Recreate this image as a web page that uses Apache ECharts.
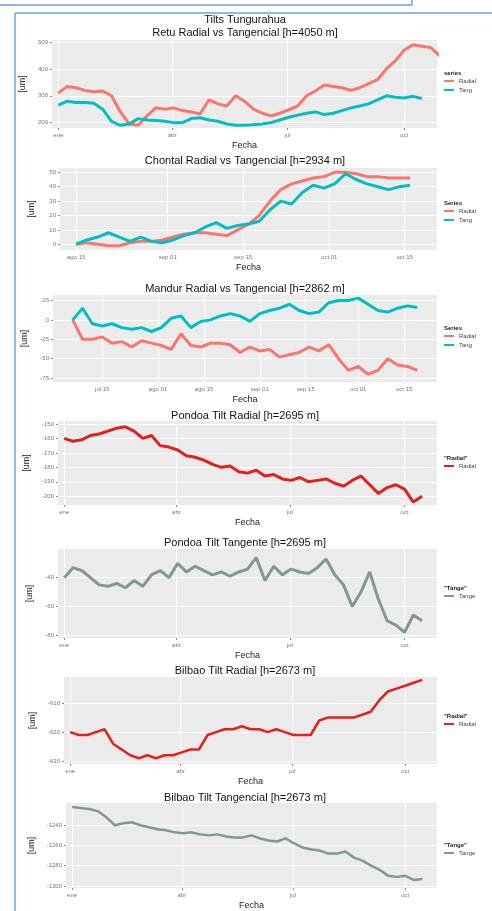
<!DOCTYPE html>
<html><head><meta charset="utf-8">
<script src="https://cdn.jsdelivr.net/npm/echarts@6/dist/echarts.min.js"></script>
<style>html,body{margin:0;background:#fff}#c{width:492px;height:911px}</style>
</head><body><div id="c"></div>
<script>
// weekly values, year-long series start 1 Jan
const yearStart = '2013-01-01';
const retuRadial = [310,335,330,320,315,318,300,240,195,190,225,255,250,255,245,240,232,285,270,262,300,280,250,235,225,235,248,262,300,318,340,335,330,320,330,345,360,400,430,470,490,485,480,450];
const retuTang = [265,280,275,275,272,250,205,190,195,215,210,208,205,200,200,215,218,210,205,195,190,190,192,195,200,210,220,228,235,240,230,235,245,255,262,270,285,300,295,292,298,290];
const chontalRadial = [0,1,0,-1,-1,1,2,2,3,5,7,8,8,7,6,10,14,20,30,38,42,44,46,47,50,50,49,47,47,46,46,46];
const chontalTang = [0,3,5,8,5,2,5,2,1,3,6,8,12,15,11,13,14,16,24,30,28,36,41,39,42,49,45,42,40,38,40,41];
const mandurRadial = [0,-25,-25,-22,-30,-28,-35,-27,-30,-33,-38,-18,-33,-35,-30,-30,-32,-42,-35,-40,-38,-48,-45,-42,-35,-40,-32,-50,-65,-60,-70,-65,-50,-58,-60,-65];
const mandurTang = [0,15,-5,-8,-5,-10,-12,-10,-15,-10,2,5,-10,-2,0,5,8,5,-2,8,12,15,20,12,8,10,22,25,25,28,20,12,10,15,18,16];
const pondoaRadial = [-160,-162,-161,-158,-157,-155,-153,-152,-155,-160,-158,-165,-166,-168,-172,-173,-175,-178,-180,-179,-183,-184,-182,-186,-185,-188,-189,-187,-190,-189,-188,-191,-193,-189,-186,-192,-198,-194,-192,-195,-204,-200];
const pondoaTang = [-40,-33,-35,-40,-45,-46,-44,-47,-42,-46,-38,-35,-40,-30,-36,-32,-35,-38,-36,-39,-36,-34,-26,-42,-32,-38,-34,-36,-37,-33,-27,-38,-45,-60,-50,-36,-55,-70,-73,-78,-66,-70];
const bilbaoRadial = [-620,-621,-621,-620,-619,-624,-626,-628,-629,-628,-629,-628,-628,-627,-626,-626,-621,-620,-619,-619,-618,-619,-619,-620,-619,-620,-621,-621,-621,-616,-615,-615,-615,-615,-614,-613,-609,-606,-605,-604,-603,-602];
const bilbaoTang = [-1222,-1223,-1224,-1226,-1232,-1240,-1238,-1237,-1240,-1242,-1244,-1245,-1247,-1248,-1247,-1249,-1250,-1249,-1251,-1252,-1252,-1250,-1253,-1255,-1256,-1253,-1258,-1262,-1264,-1265,-1268,-1268,-1266,-1272,-1275,-1280,-1284,-1290,-1291,-1290,-1294,-1293];
const quarterTicks = ['2013-01-01','2013-04-01','2013-07-01','2013-10-01'];
const chontalTicks = ['2013-08-15','2013-09-01','2013-09-15','2013-10-01','2013-10-15'];
const mandurTicks = ['2013-07-15','2013-08-01','2013-08-15','2013-09-01','2013-09-15','2013-10-01','2013-10-15'];
const yTicks = [[200,300,400,500],[0,10,20,30,40,50],[-75,-50,-25,0,25],[-200,-190,-180,-170,-160,-150],[-80,-60,-40],[-630,-620,-610],[-1300,-1280,-1260,-1240]];
const meses = ['ene','feb','mar','abr','may','jun','jul','ago','sep','oct','nov','dic'];

function pairs(start, stepDays, vals) {
  const t0 = new Date(start + 'T00:00:00Z').getTime();
  return vals.map((v, i) => [t0 + i * stepDays * 86400000, v]);
}
const ts = s => new Date(s + 'T00:00:00Z').getTime();

const C = { r: '#F8766D', t: '#00BFC4', red: '#E3201B', gray: '#7E9896' };
const grids = [
  { left: 52, top: 40, height: 88 },
  { left: 60, top: 168, height: 82 },
  { left: 53, top: 295, height: 87 },
  { left: 58, top: 421, height: 84 },
  { left: 58, top: 549, height: 89 },
  { left: 64, top: 677, height: 87 },
  { left: 66, top: 803, height: 87 }
].map(g => Object.assign({ right: 55, show: true, backgroundColor: '#EBEBEB', borderWidth: 0 }, g));

const xr = [
  ['2012-12-27', '2013-10-27', quarterTicks, false],
  ['2013-08-12', '2013-10-21', chontalTicks, true],
  ['2013-06-30', '2013-10-25', mandurTicks, true],
  ['2012-12-27', '2013-10-27', quarterTicks, false],
  ['2012-12-27', '2013-10-27', quarterTicks, false],
  ['2012-12-27', '2013-10-27', quarterTicks, false],
  ['2012-12-27', '2013-10-27', quarterTicks, false]
];
const xAxis = xr.map((r, i) => ({
  type: 'value', gridIndex: i, min: ts(r[0]), max: ts(r[1]),
  name: 'Fecha', nameLocation: 'middle', nameGap: 13,
  nameTextStyle: { fontSize: 9, color: '#222', fontFamily: 'Liberation Sans' },
  axisLine: { show: false },
  axisTick: { show: true, length: 2, lineStyle: { color: '#888' }, customValues: r[2].map(ts) },
  axisLabel: {
    fontSize: 6, color: '#777', margin: 4, customValues: r[2].map(ts),
    formatter: v => { const d = new Date(v); const m = meses[d.getUTCMonth()]; return r[3] ? m + ' ' + String(d.getUTCDate()).padStart(2, '0') : m; }
  },
  splitLine: { show: false }
}));
const yr = [[180, 508], [-4, 53], [-80, 32], [-206, -148], [-82, -20], [-631, -601], [-1302, -1218]];
const yAxis = yr.map((r, i) => ({
  type: 'value', gridIndex: i, min: r[0], max: r[1],
  name: '[um]', nameLocation: 'middle', nameGap: 24,
  nameTextStyle: { fontSize: 9, color: '#222', fontFamily: 'Liberation Sans' },
  axisLine: { show: false },
  axisTick: { show: true, length: 2, lineStyle: { color: '#888' }, customValues: yTicks[i] },
  axisLabel: { fontSize: 6, color: '#777', margin: 4, customValues: yTicks[i], formatter: v => String(v) },
  splitLine: { show: false }
}));

// white grid lines at tick positions, drawn as markLines
function gridLines(xt, yt) {
  return { silent: true, symbol: 'none', label: { show: false }, animation: false,
    lineStyle: { color: '#fff', type: 'solid', width: 1 },
    data: xt.map(t => ({ xAxis: ts(t) })).concat(yt.map(v => ({ yAxis: v }))) };
}
function line(name, data, color, gi, w, xt) {
  const s = { name, type: 'line', xAxisIndex: gi, yAxisIndex: gi, data, showSymbol: false, symbol: 'none',
    lineStyle: { color, width: w || 3 }, itemStyle: { color }, z: 3 };
  if (xt) { s.markLine = gridLines(xt, yTicks[gi]); }
  return s;
}
const series = [
  line('Radial', pairs(yearStart, 7, retuRadial), C.r, 0, 3, quarterTicks),
  line('Tang', pairs(yearStart, 7, retuTang), C.t, 0),
  line('Radial', pairs('2013-08-15', 2, chontalRadial), C.r, 1, 3, chontalTicks),
  line('Tang', pairs('2013-08-15', 2, chontalTang), C.t, 1),
  line('Radial', pairs('2013-07-06', 3, mandurRadial), C.r, 2, 3, mandurTicks),
  line('Tang', pairs('2013-07-06', 3, mandurTang), C.t, 2),
  line('Radial', pairs(yearStart, 7, pondoaRadial), C.red, 3, 3, quarterTicks),
  line('Tange', pairs(yearStart, 7, pondoaTang), C.gray, 4, 3, quarterTicks),
  line('Radial', pairs(yearStart, 7, bilbaoRadial), C.red, 5, 2.5, quarterTicks),
  line('Tange', pairs(yearStart, 7, bilbaoTang), C.gray, 6, 2.5, quarterTicks)
];
// keep grid lines under the data lines
series.forEach(s => { if (s.markLine) s.markLine.z = 1; });
const reordered = series.filter(s => s.markLine).map(s => Object.assign({}, s, { name: s.name + ' ', data: [], markLine: s.markLine, legendHoverLink: false }));

const tf = { fontFamily: 'Liberation Sans', color: '#111', fontWeight: 'normal' };
const title = [
  ['Tilts Tungurahua', 14], ['Retu Radial vs Tangencial [h=4050 m]', 27],
  ['Chontal Radial vs Tangencial [h=2934 m]', 155], ['Mandur Radial vs Tangencial [h=2862 m]', 283],
  ['Pondoa Tilt Radial [h=2695 m]', 410], ['Pondoa Tilt Tangente [h=2695 m]', 537],
  ['Bilbao Tilt Radial [h=2673 m]', 665], ['Bilbao Tilt Tangencial [h=2673 m]', 792]
].map(t => ({ text: t[0], left: 245, textAlign: 'center', top: t[1], padding: 0, textStyle: Object.assign({ fontSize: 11 }, tf) }));

const legTitles = [['series', 70], ['Series', 200], ['Series', 325], ['"Radial"', 455], ['"Tange"', 585], ['"Radial"', 713], ['"Tange"', 842]];
legTitles.forEach(l => title.push({ text: l[0], left: 444, top: l[1], padding: 0, textStyle: { fontSize: 6, fontWeight: 'bold', color: '#222' } }));

const legItems = [
  [['Radial', C.r], ['Tang', C.t]], [['Radial', C.r], ['Tang', C.t]], [['Radial', C.r], ['Tang', C.t]],
  [['Radial', C.red]], [['Tange', C.gray]], [['Radial', C.red]], [['Tange', C.gray]]
];
const legend = legItems.map((items, i) => ({
  left: 444, top: legTitles[i][1] + 8, orient: 'vertical', itemWidth: 10, itemHeight: 2, itemGap: 3, padding: 0,
  icon: 'rect', selectedMode: false, textStyle: { fontSize: 6, color: '#444' },
  data: items.map(it => ({ name: it[0], itemStyle: { color: it[1] } }))
}));

const chart = echarts.init(document.getElementById('c'), null, { renderer: 'canvas' });
chart.setOption({
  animation: false, backgroundColor: '#fff',
  title, legend, grid: grids, xAxis, yAxis, series,
  graphic: [
    { type: 'line', shape: { x1: 0, y1: 5, x2: 412, y2: 5 }, style: { stroke: '#6FA0DC', lineWidth: 1.5 } },
    { type: 'line', shape: { x1: 412, y1: 0, x2: 412, y2: 5 }, style: { stroke: '#6FA0DC', lineWidth: 1.5 } },
    { type: 'line', shape: { x1: 15, y1: 13, x2: 492, y2: 13 }, style: { stroke: '#6FA0DC', lineWidth: 1.5 } },
    { type: 'line', shape: { x1: 15, y1: 13, x2: 15, y2: 911 }, style: { stroke: '#6FA0DC', lineWidth: 1.5 } }
  ]
});
</script></body></html>
